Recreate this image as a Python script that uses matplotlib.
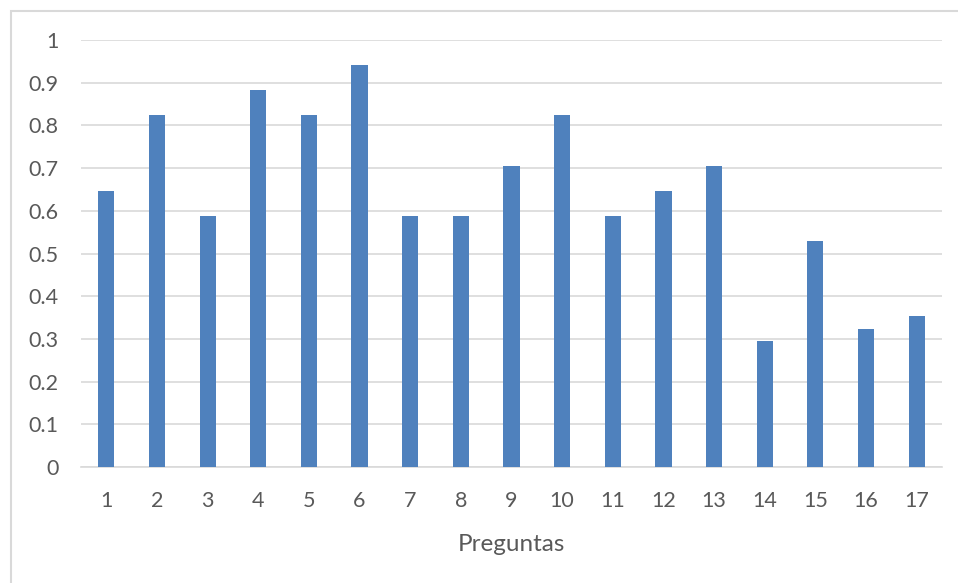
import matplotlib.pyplot as plt
from matplotlib.patches import Rectangle

preguntas = [str(i) for i in range(1, 18)]
valores = [0.647, 0.824, 0.588, 0.882, 0.824, 0.941, 0.588, 0.588, 0.706,
           0.824, 0.588, 0.647, 0.706, 0.294, 0.529, 0.324, 0.353]
y_ticks = [0, 0.1, 0.2, 0.3, 0.4, 0.5, 0.6, 0.7, 0.8, 0.9, 1]
y_labels = ['0', '0.1', '0.2', '0.3', '0.4', '0.5', '0.6', '0.7', '0.8', '0.9', '1']

W, H = 958, 583
plt.rcParams['font.family'] = ['Lato', 'DejaVu Sans']
text_color = '#595959'

fig = plt.figure(figsize=(W / 100, H / 100), dpi=100)
# outer chart frame
fig.patches.append(Rectangle((11 / W, -0.1), 1.1, 1 - 11 / H + 0.1,
                             transform=fig.transFigure, fill=False,
                             edgecolor='#d9d9d9', linewidth=1.5))

ax = fig.add_axes([81 / W, 1 - 467 / H, (942 - 81) / W, (467 - 40) / H])
x = list(range(len(preguntas)))
ax.bar(x, valores, width=0.32, color='#4f81bd', zorder=3)
ax.set_xlim(-0.5, len(preguntas) - 0.5)
ax.set_ylim(0, 1)
ax.set_yticks(y_ticks)
ax.set_yticklabels(y_labels)
ax.set_xticks(x)
ax.set_xticklabels(preguntas)
ax.grid(axis='y', color='#d9d9d9', linewidth=1.2, zorder=0)
ax.tick_params(length=0, labelsize=15.5, colors=text_color)
ax.tick_params(axis='y', pad=16)
ax.tick_params(axis='x', pad=17)
for s in ['top', 'right', 'left']:
    ax.spines[s].set_visible(False)
ax.spines['bottom'].set_color('#d9d9d9')
ax.spines['bottom'].set_linewidth(1.2)
ax.set_xlabel('Preguntas', fontsize=17.5, color=text_color, labelpad=17)

fig.savefig('out.png', dpi=100)
